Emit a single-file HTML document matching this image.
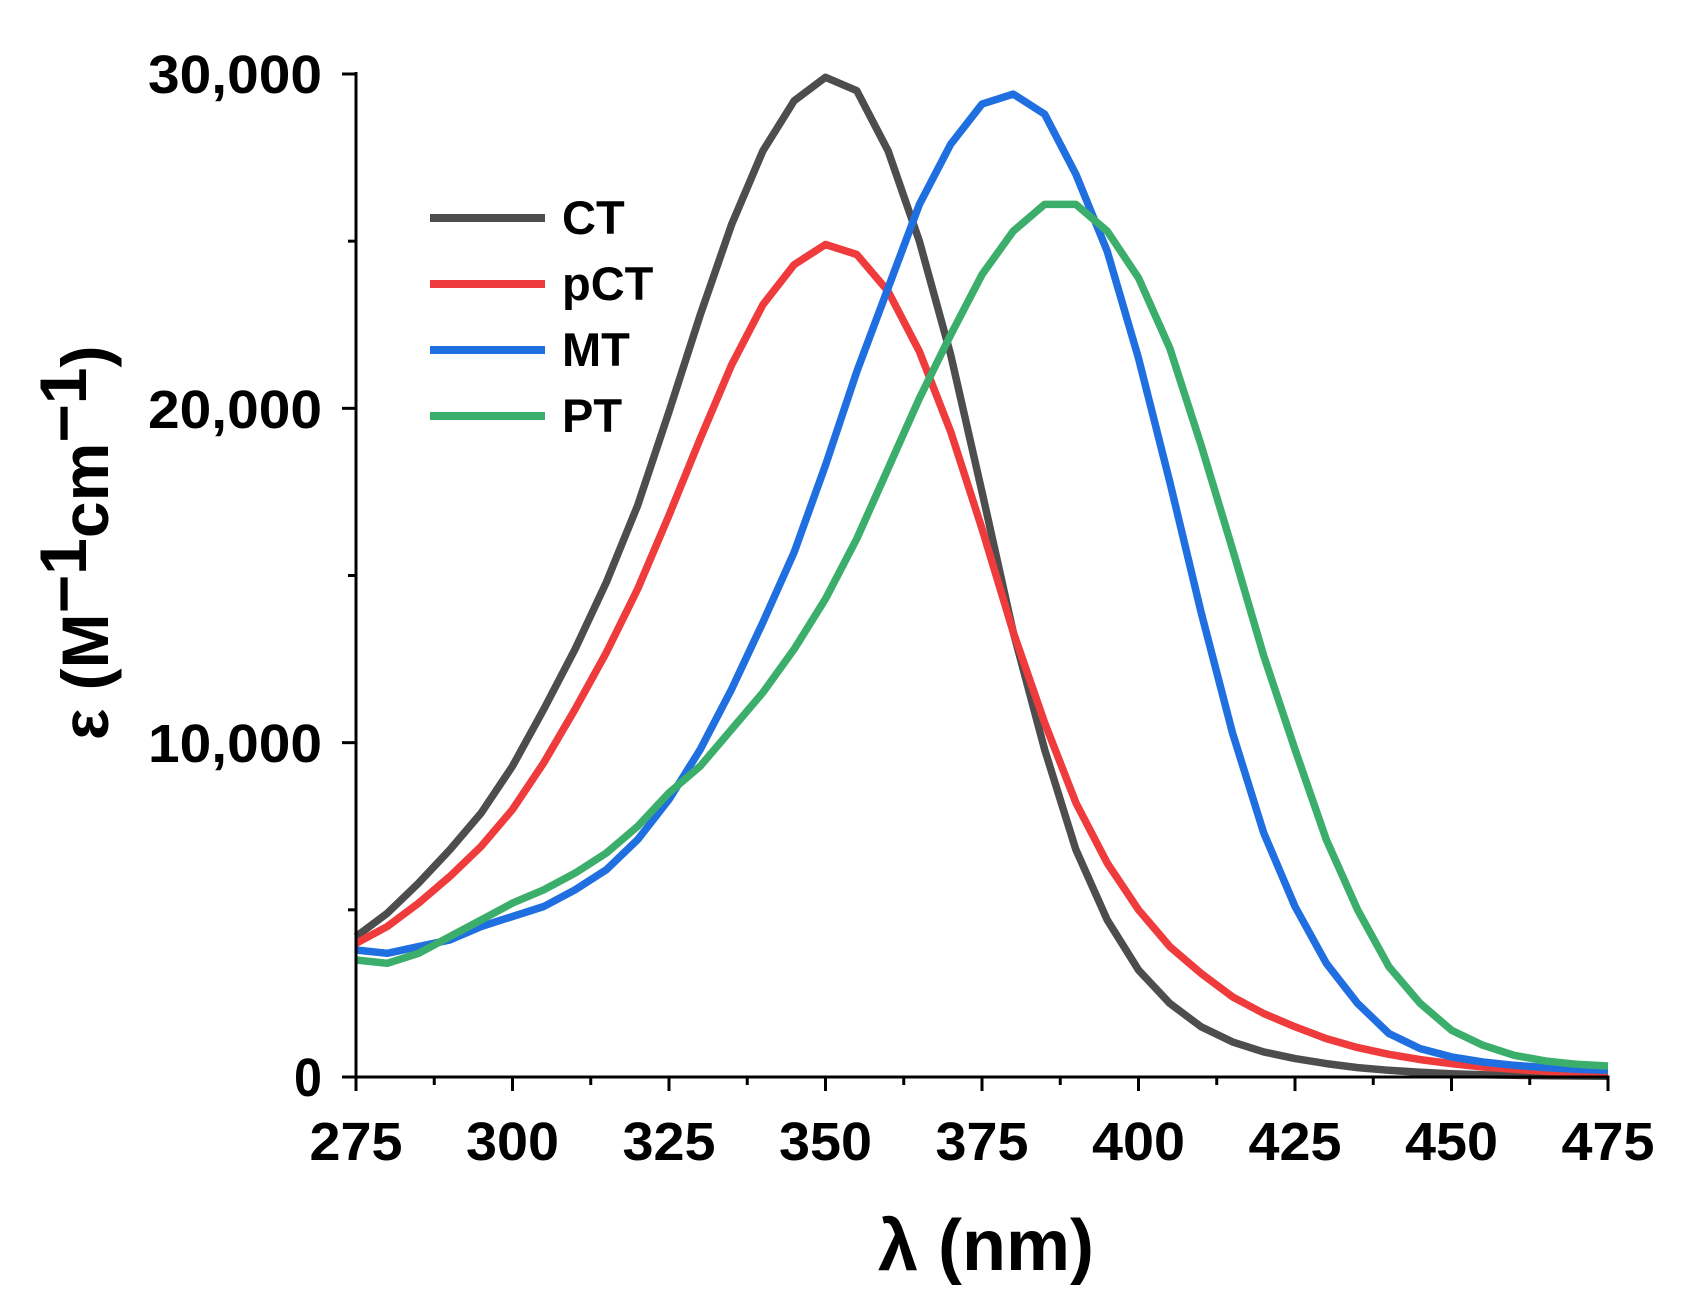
<!DOCTYPE html>
<html><head><meta charset="utf-8"><style>
html,body{margin:0;padding:0;background:#fff;}
svg{display:block;font-family:"Liberation Sans",Arial,sans-serif;font-weight:bold;}
</style></head><body>
<svg id="s" width="1690" height="1312" viewBox="0 0 1690 1312" xmlns="http://www.w3.org/2000/svg">
<g id="plot"></g>
<g font-size="54" fill="#000" text-anchor="end">
<text x="322" y="93" textLength="174" lengthAdjust="spacingAndGlyphs">30,000</text>
<text x="322" y="428" textLength="174" lengthAdjust="spacingAndGlyphs">20,000</text>
<text x="322" y="762" textLength="174" lengthAdjust="spacingAndGlyphs">10,000</text>
<text x="322" y="1096" textLength="28" lengthAdjust="spacingAndGlyphs">0</text>
</g>
<g font-size="54" fill="#000" text-anchor="middle" id="xl"></g>
<text x="986" y="1270" font-size="72" text-anchor="middle">λ (nm)</text>
<text transform="translate(108,740) rotate(-90)" font-size="66">ε (M<tspan dy="-22">−1</tspan><tspan dy="22">cm</tspan><tspan dy="-22">−1</tspan><tspan dy="22">)</tspan></text>
<g font-size="47" fill="#000">
<line x1="430" y1="218" x2="545" y2="218" stroke="#4d4d4d" stroke-width="8"/><text x="562" y="234">CT</text>
<line x1="430" y1="284" x2="545" y2="284" stroke="#ef3b3b" stroke-width="8"/><text x="562" y="300">pCT</text>
<line x1="430" y1="350" x2="545" y2="350" stroke="#1f6fe0" stroke-width="8"/><text x="562" y="366">MT</text>
<line x1="430" y1="416" x2="545" y2="416" stroke="#3aae6a" stroke-width="8"/><text x="562" y="432">PT</text>
</g>
</svg>
<script>
var X0=356,X1=1608,Y0=1077,YT=74;
function px(n){return X0+(n-275)/200*(X1-X0);}
function py(v){return Y0-v/30000*(Y0-YT);}
var D={
"#4d4d4d":[4200,4900,5800,6800,7900,9300,11000,12800,14800,17100,19900,22800,25500,27700,29200,29900,29500,27700,25000,21600,17500,13300,9800,6800,4700,3200,2200,1500,1050,750,550,400,280,200,140,100,70,50,40,30,20],
"#ef3b3b":[4000,4500,5200,6000,6900,8000,9400,11000,12700,14600,16800,19100,21300,23100,24300,24900,24600,23500,21700,19300,16400,13300,10600,8200,6400,5000,3900,3100,2400,1900,1500,1150,880,680,520,400,300,230,170,130,100],
"#1f6fe0":[3800,3700,3900,4100,4500,4800,5100,5600,6200,7100,8300,9800,11600,13600,15700,18300,21100,23600,26100,27900,29100,29400,28800,27000,24700,21500,17800,13900,10300,7300,5100,3400,2200,1300,850,600,450,350,280,230,200],
"#3aae6a":[3500,3400,3700,4200,4700,5200,5600,6100,6700,7500,8500,9300,10400,11500,12800,14300,16100,18200,20300,22200,24000,25300,26100,26100,25300,23900,21800,18900,15800,12600,9800,7100,5000,3300,2200,1400,950,650,480,380,330]};
var h='';
for(var c in D){var d='';D[c].forEach(function(v,i){d+=(i?'L':'M')+px(275+5*i).toFixed(1)+' '+py(v).toFixed(1);});
h+='<path d="'+d+'" fill="none" stroke="'+c+'" stroke-width="7.5" stroke-linejoin="round"/>';}
h+='<line x1="'+X0+'" y1="'+(YT-2)+'" x2="'+X0+'" y2="'+(Y0+1.5)+'" stroke="#000" stroke-width="3"/>';
h+='<line x1="'+(X0-1.5)+'" y1="'+Y0+'" x2="'+(X1+1.5)+'" y2="'+Y0+'" stroke="#000" stroke-width="3"/>';
for(var v=0;v<=30000;v+=5000){var L=(v%10000==0)?14:8;h+='<line x1="'+(X0-L)+'" y1="'+py(v)+'" x2="'+X0+'" y2="'+py(v)+'" stroke="#000" stroke-width="3"/>';}
var xl='';
for(var n=275;n<=475;n+=12.5){var maj=((n-275)%25==0);var L=maj?14:8;h+='<line x1="'+px(n)+'" y1="'+Y0+'" x2="'+px(n)+'" y2="'+(Y0+L)+'" stroke="#000" stroke-width="3"/>';
if(maj)xl+='<text x="'+px(n)+'" y="1160" textLength="93" lengthAdjust="spacingAndGlyphs">'+n+'</text>';}
document.getElementById('plot').innerHTML=h;
document.getElementById('xl').innerHTML=xl;
</script>
</body></html>
